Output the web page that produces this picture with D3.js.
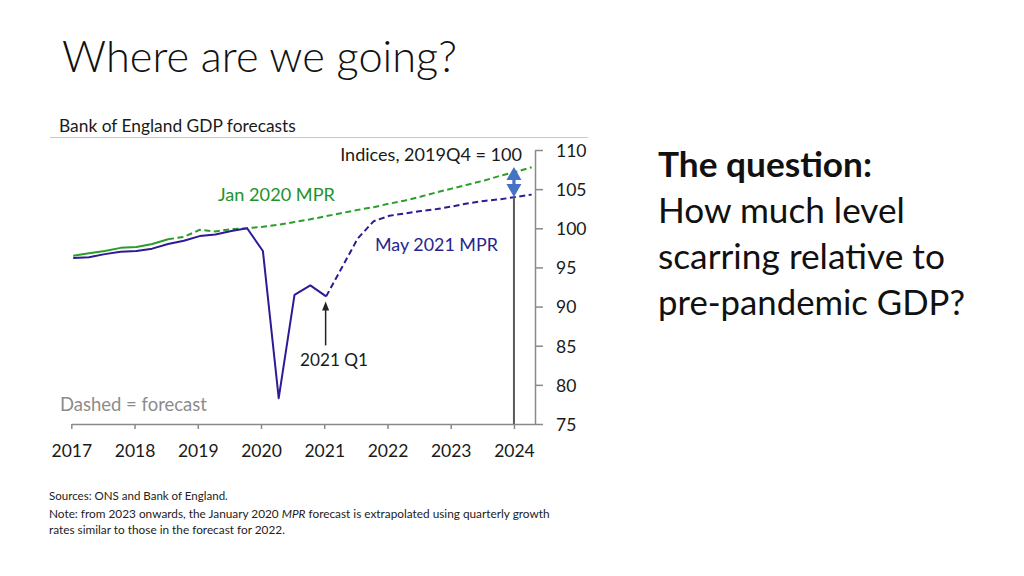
<!DOCTYPE html>
<html>
<head>
<meta charset="utf-8">
<script src="https://cdn.jsdelivr.net/npm/d3@7"></script>
<style>
  html, body { margin: 0; padding: 0; background: #fff; }
  svg { display: block; font-family: Lato, "Open Sans", sans-serif; }
</style>
</head>
<body>
<svg id="chart" width="1024" height="576"></svg>
<script>
// ---------- data ----------
const periods = [
  "2017 Q1","2017 Q2","2017 Q3","2017 Q4",
  "2018 Q1","2018 Q2","2018 Q3","2018 Q4",
  "2019 Q1","2019 Q2","2019 Q3","2019 Q4",
  "2020 Q1","2020 Q2","2020 Q3","2020 Q4",
  "2021 Q1","2021 Q2","2021 Q3","2021 Q4",
  "2022 Q1","2022 Q2","2022 Q3","2022 Q4",
  "2023 Q1","2023 Q2","2023 Q3","2023 Q4",
  "2024 Q1","2024 Q2"
];
// Jan 2020 MPR (green)
const janGdp = [96.5, 96.8, 97.1, 97.5, 97.6, 98.0, 98.6, 98.9, 99.8, 99.6, 99.9, 100.0,
                100.2, 100.45, 100.8, 101.15, 101.55, 101.95, 102.35, 102.7, 103.15, 103.55,
                104.05, 104.6, 105.1, 105.6, 106.1, 106.7, 107.2, 107.8];
// May 2021 MPR (blue)
const mayGdp = [96.2, 96.3, 96.7, 97.0, 97.1, 97.4, 98.0, 98.4, 99.0, 99.2, 99.65, 100.0,
                97.1, 78.3, 91.5, 92.7, 91.3, 95.0, 98.7, 100.9, 101.6, 101.9, 102.2, 102.45,
                102.8, 103.2, 103.5, 103.7, 104.0, 104.3];
const janForecastFrom = "2018 Q3";
const mayForecastFrom = "2021 Q1";
const gapPeriod = "2024 Q1";
const markPeriod = "2021 Q1";
const xTicks = [2017, 2018, 2019, 2020, 2021, 2022, 2023, 2024];
const yTicks = [75, 80, 85, 90, 95, 100, 105, 110];

// ---------- layout ----------
const svg = d3.select("#chart");
const x = d3.scaleLinear().domain([2017, 2024.333]).range([71.3, 535]);
const y = d3.scaleLinear().domain([75, 110]).range([424, 150]);
const toYear = p => { const [yr, q] = p.split(" Q"); return +yr + (+q - 1) / 4 + 0.03; };

const GREEN = "#2a9d2a", GREEN_T = "#23922a";
const BLUE = "#2c1a96", BLUE_T = "#28248e";
const AXIS = "#8a8a8a";

function fit(sel, w) {
  const n = sel.node();
  const cur = n.getComputedTextLength();
  const fs = parseFloat(sel.attr("font-size"));
  sel.attr("font-size", (fs * w / cur).toFixed(2));
  return sel;
}
function txt(str, xp, yp, size, opts = {}) {
  const t = svg.append("text").attr("x", xp).attr("y", yp)
    .attr("font-size", size).attr("fill", opts.fill || "#1a1a1a")
    .attr("font-weight", opts.weight || 400)
    .attr("text-anchor", opts.anchor || "start")
    .text(str);
  if (opts.width) fit(t, opts.width);
  return t;
}

// Title and headings
txt("Where are we going?", 62, 72, 38, { weight: 300, width: 395, fill: "#111" });
txt("Bank of England GDP forecasts", 59, 132, 16, { width: 237 });
svg.append("line").attr("x1", 50).attr("x2", 588).attr("y1", 137.5).attr("y2", 137.5)
  .attr("stroke", "#c8c8c8").attr("stroke-width", 1);

// Right-hand text
txt("The question:", 658, 177, 30, { weight: 700, width: 214, fill: "#111" });
txt("How much level", 658, 223, 30, { width: 247, fill: "#111" });
txt("scarring relative to", 658, 269, 30, { width: 287, fill: "#111" });
txt("pre-pandemic GDP?", 658, 315, 30, { width: 307, fill: "#111" });

// Footer
txt("Sources: ONS and Bank of England.", 49, 500, 11, { width: 179, fill: "#222" });
const note = svg.append("text").attr("x", 49).attr("y", 518).attr("font-size", 11).attr("fill", "#222");
note.append("tspan").text("Note: from 2023 onwards, the January 2020 ");
note.append("tspan").attr("font-style", "italic").text("MPR");
note.append("tspan").text(" forecast is extrapolated using quarterly growth");
fit(note, 501);
const noteFs = note.attr("font-size");
txt("rates similar to those in the forecast for 2022.", 49, 534, noteFs, { fill: "#222" });

// ---------- axes ----------
const xAxis = svg.append("g").attr("transform", `translate(0,${y(75)})`)
  .call(d3.axisBottom(x).tickValues(xTicks).tickFormat(d3.format("d"))
    .tickSize(5).tickSizeOuter(0).tickPadding(16));
const yAxis = svg.append("g").attr("transform", `translate(${x.range()[1]},0)`)
  .call(d3.axisRight(y).tickValues(yTicks).tickSize(8).tickSizeOuter(0).tickPadding(13));
[xAxis, yAxis].forEach(g => {
  g.selectAll("path, line").attr("stroke", AXIS).attr("stroke-width", 1.5);
  g.selectAll("text").attr("font-size", 17.5).attr("fill", "#1a1a1a")
    .attr("font-family", "Lato, sans-serif");
});
yAxis.selectAll("text").attr("dy", "0.36em");

// ---------- lines ----------
const rows = (vals) => periods.map((p, i) => ({ p, t: toYear(p), v: vals[i] }));
const line = d3.line().x(d => x(d.t)).y(d => y(d.v));
function drawSeries(vals, splitP, color) {
  const r = rows(vals);
  const k = periods.indexOf(splitP);
  svg.append("path").datum(r.slice(0, k + 1)).attr("d", line)
    .attr("fill", "none").attr("stroke", color).attr("stroke-width", 2)
    .attr("stroke-linejoin", "round");
  svg.append("path").datum(r.slice(k)).attr("d", line)
    .attr("fill", "none").attr("stroke", color).attr("stroke-width", 2)
    .attr("stroke-dasharray", "6,3.5");
}
drawSeries(janGdp, janForecastFrom, GREEN);
drawSeries(mayGdp, mayForecastFrom, BLUE);

// ---------- annotations ----------
// gap at 2024
const gi = periods.indexOf(gapPeriod);
const gx = x(2024);
const yTop = y(janGdp[gi]) - 5, yBot = y(mayGdp[gi]);
svg.append("line").attr("x1", gx).attr("x2", gx).attr("y1", yBot).attr("y2", y(75))
  .attr("stroke", "#595959").attr("stroke-width", 2);
const hw = 7.5, hh = 13, sw = 1.6;
svg.append("path").attr("fill", "#4472c4").attr("d", [
  `M${gx},${yTop}`, `L${gx + hw},${yTop + hh}`, `L${gx + sw},${yTop + hh}`,
  `L${gx + sw},${yBot - hh}`, `L${gx + hw},${yBot - hh}`, `L${gx},${yBot}`,
  `L${gx - hw},${yBot - hh}`, `L${gx - sw},${yBot - hh}`, `L${gx - sw},${yTop + hh}`,
  `L${gx - hw},${yTop + hh}`, "Z"].join(""));

// 2021 Q1 arrow
const mi = periods.indexOf(markPeriod);
const mx = x(toYear(markPeriod)) - 0.5;
const tip = y(mayGdp[mi]) + 5;
svg.append("line").attr("x1", mx).attr("x2", mx).attr("y1", tip + 7).attr("y2", tip + 44)
  .attr("stroke", "#222").attr("stroke-width", 1.5);
svg.append("path").attr("fill", "#222")
  .attr("d", `M${mx},${tip}L${mx + 3.5},${tip + 9}L${mx - 3.5},${tip + 9}Z`);
txt("2021 Q1", 300, 366, 17, { width: 68 });

// Labels
txt("Indices, 2019Q4 = 100", 522, 161, 16, { anchor: "end", width: 182 });
txt("Jan 2020 MPR", 218, 201, 17, { fill: GREEN_T, width: 117 });
txt("May 2021 MPR", 375, 251, 17, { fill: BLUE_T, width: 123 });
txt("Dashed = forecast", 60, 411, 17, { fill: "#8c8c8c", width: 147 });
</script>
</body>
</html>
